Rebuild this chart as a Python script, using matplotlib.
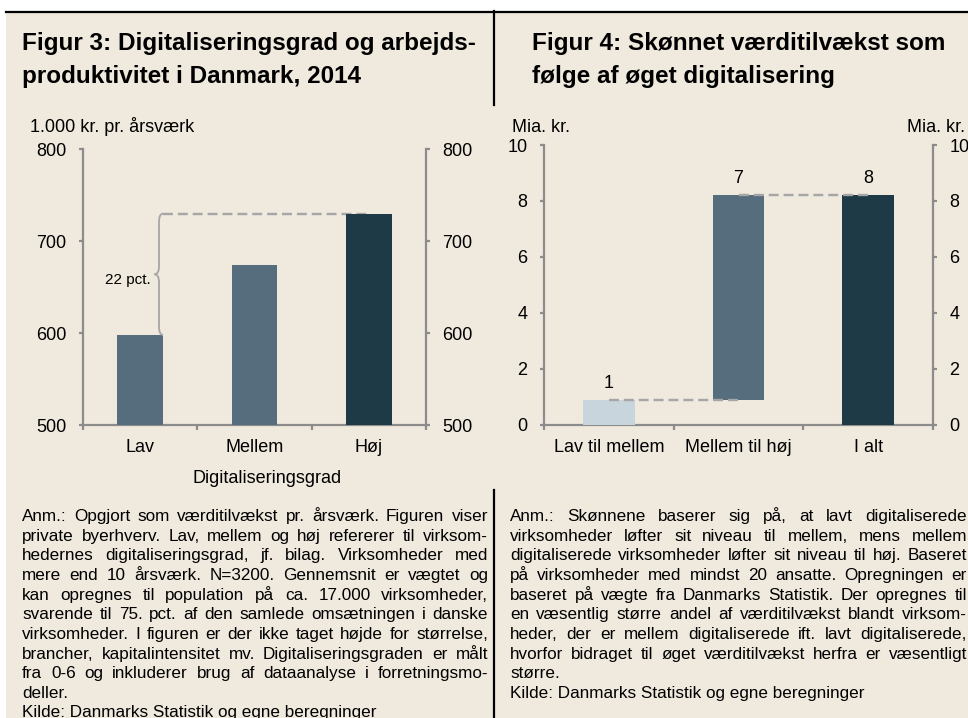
import matplotlib
matplotlib.use('Agg')
import matplotlib.pyplot as plt
from matplotlib.patches import Rectangle, PathPatch
from matplotlib.path import Path
from matplotlib.lines import Line2D
import numpy as np

plt.rcParams['font.family'] = ['Liberation Sans', 'DejaVu Sans']

# ---------------- data ----------------
fig3_title = ["Figur 3: Digitaliseringsgrad og arbejds-", "produktivitet i Danmark, 2014"]
fig3_unit = "1.000 kr. pr. årsværk"
fig3_categories = ['Lav', 'Mellem', 'Høj']
fig3_values = [598, 674, 730]
fig3_yticks = [500, 600, 700, 800]
fig3_xlabel = "Digitaliseringsgrad"

fig4_title = ["Figur 4: Skønnet værditilvækst som", "følge af øget digitalisering"]
fig4_unit = "Mia. kr."
fig4_categories = ['Lav til mellem', 'Mellem til høj', 'I alt']
fig4_steps = [0.88, 7.35]
fig4_yticks = [0, 2, 4, 6, 8, 10]

fig3_notes = [
    "Anm.: Opgjort som værditilvækst pr. årsværk. Figuren viser",
    "private byerhverv. Lav, mellem og høj refererer til virksom-",
    "hedernes digitaliseringsgrad, jf. bilag. Virksomheder med",
    "mere end 10 årsværk. N=3200. Gennemsnit er vægtet og",
    "kan opregnes til population på ca. 17.000 virksomheder,",
    "svarende til 75. pct. af den samlede omsætningen i danske",
    "virksomheder. I figuren er der ikke taget højde for størrelse,",
    "brancher, kapitalintensitet mv. Digitaliseringsgraden er målt",
    "fra 0-6 og inkluderer brug af dataanalyse i forretningsmo-",
    "deller.",
    "Kilde: Danmarks Statistik og egne beregninger",
]
fig4_notes = [
    "Anm.: Skønnene baserer sig på, at lavt digitaliserede",
    "virksomheder løfter sit niveau til mellem, mens mellem",
    "digitaliserede virksomheder løfter sit niveau til høj. Baseret",
    "på virksomheder med mindst 20 ansatte. Opregningen er",
    "baseret på vægte fra Danmarks Statistik. Der opregnes til",
    "en væsentlig større andel af værditilvækst blandt virksom-",
    "heder, der er mellem digitaliserede ift. lavt digitaliserede,",
    "hvorfor bidraget til øget værditilvækst herfra er væsentligt",
    "større.",
    "Kilde: Danmarks Statistik og egne beregninger",
]

# ---------------- style ----------------
W, H = 968, 718
BG = '#EFE9DE'
GRAY = '#8C8C8C'
DASH = '#A6A6A6'
C_LIGHT = '#C8D5DC'
C_MID = '#566D7E'
C_DARK = '#1D3A46'
TICK_FS = 13
NOTE_FS = 12.3

fig = plt.figure(figsize=(W / 100, H / 100), dpi=100, facecolor='white')


def fx(x):
    return x / W


def fy(y):
    return 1 - y / H


# background & frame lines
fig.patches.append(Rectangle((fx(6), 0), 1, fy(11), transform=fig.transFigure,
                             facecolor=BG, edgecolor='none', zorder=-10))
fig.lines.append(Line2D([fx(6), 1], [fy(11.8)] * 2, transform=fig.transFigure,
                        color='black', lw=1.6))
fig.lines.append(Line2D([fx(494.3)] * 2, [fy(11), fy(105)], transform=fig.transFigure,
                        color='black', lw=1.6))
fig.lines.append(Line2D([fx(494.3)] * 2, [fy(490), 0], transform=fig.transFigure,
                        color='black', lw=1.6))

# titles
for i, line in enumerate(fig3_title):
    fig.text(fx(22), fy(50 + i * 33.5), line, fontsize=17.5, fontweight='bold',
             va='baseline', ha='left')
for i, line in enumerate(fig4_title):
    fig.text(fx(532), fy(50 + i * 33.5), line, fontsize=17.5, fontweight='bold',
             va='baseline', ha='left')

fig.text(fx(30), fy(131.5), fig3_unit, fontsize=TICK_FS, va='baseline', ha='left')
fig.text(fx(512), fy(131.5), fig4_unit, fontsize=TICK_FS, va='baseline', ha='left')
fig.text(fx(965), fy(131.5), fig4_unit, fontsize=TICK_FS, va='baseline', ha='right')


def style_axes(ax, ncat):
    ax.set_facecolor('none')
    ax.spines['top'].set_visible(False)
    for s in ['left', 'right', 'bottom']:
        ax.spines[s].set_color(GRAY)
        ax.spines[s].set_linewidth(1.6)
    ax.set_xlim(-0.5, ncat - 0.5)
    ax.tick_params(axis='y', which='both', left=True, right=True, labelleft=True,
                   labelright=True, direction='out', length=2.9, width=1.6,
                   color=GRAY, pad=9, labelsize=TICK_FS)
    ax.set_xticks(np.arange(ncat + 1) - 0.5)
    ax.set_xticklabels([])
    ax.tick_params(axis='x', which='major', direction='out', length=3.6, width=1.6,
                   color=GRAY)


# ---------------- Figure 3 ----------------
ax1 = fig.add_axes([fx(83), fy(425), (426 - 83) / W, (425 - 149.3) / H])
x3 = np.arange(len(fig3_categories))
bw = 0.4
ax1.bar(x3, fig3_values, width=bw, color=[C_MID, C_MID, C_DARK], zorder=3)
ax1.set_ylim(fig3_yticks[0], fig3_yticks[-1])
ax1.set_yticks(fig3_yticks)
style_axes(ax1, len(fig3_categories))
ax1.set_xticks(x3, minor=True)
ax1.set_xticklabels(fig3_categories, minor=True)
ax1.tick_params(axis='x', which='minor', length=0, pad=10, labelsize=TICK_FS)

low, high = fig3_values[0], fig3_values[-1]
mid = (low + high) / 2
xe = x3[0] + bw / 2
xb = xe - 0.035
tip = xe - 0.075
d = 9
verts = [(xe, low), (xb, low), (xb, low + d), (xb, mid - d), (xb, mid), (tip, mid),
         (xb, mid), (xb, mid + d), (xb, high - d), (xb, high), (xe, high)]
codes = [Path.MOVETO, Path.CURVE3, Path.CURVE3, Path.LINETO, Path.CURVE3, Path.CURVE3,
         Path.CURVE3, Path.CURVE3, Path.LINETO, Path.CURVE3, Path.CURVE3]
ax1.add_patch(PathPatch(Path(verts, codes), facecolor='none', edgecolor=DASH,
                        lw=1.3, zorder=4))
ax1.plot([xe, x3[-1]], [high, high], color=DASH, lw=1.7, ls=(0, (4.2, 2.1)), zorder=2)
pct = round((high / low - 1) * 100)
ax1.annotate(f"{pct} pct.", xy=(tip, mid), xytext=(-3, -4), textcoords='offset points',
             ha='right', va='center', fontsize=11)
fig.text(fx(267), fy(483), fig3_xlabel, fontsize=TICK_FS, ha='center', va='baseline')

# ---------------- Figure 4 ----------------
ax2 = fig.add_axes([fx(544), fy(424.7), (933 - 544) / W, (424.7 - 145) / H])
x4 = np.arange(len(fig4_categories))
cum = np.cumsum(fig4_steps)
total = cum[-1]
bottoms = [0] + list(cum[:-1]) + [0]
heights = list(fig4_steps) + [total]
ax2.bar(x4, heights, bottom=bottoms, width=bw, color=[C_LIGHT, C_MID, C_DARK], zorder=3)
ax2.set_ylim(fig4_yticks[0], fig4_yticks[-1])
ax2.set_yticks(fig4_yticks)
style_axes(ax2, len(fig4_categories))
ax2.set_xticks(x4, minor=True)
ax2.set_xticklabels(fig4_categories, minor=True)
ax2.tick_params(axis='x', which='minor', length=0, pad=10, labelsize=TICK_FS)
for i, c in enumerate(cum):
    ax2.plot([x4[i], x4[i + 1]], [c, c], color=DASH, lw=1.7, ls=(0, (4.2, 2.1)), zorder=4)
for i, h in enumerate(heights):
    ax2.annotate(f"{h:.0f}", xy=(x4[i], bottoms[i] + h), xytext=(0, 5.5),
                 textcoords='offset points', ha='center', va='bottom', fontsize=TICK_FS)

# ---------------- notes (justified) ----------------
renderer = fig.canvas.get_renderer()


def draw_notes(lines, n_just, x0, x1, y0, dy):
    for i, line in enumerate(lines):
        yb = y0 + i * dy
        if i >= n_just:
            fig.text(fx(x0), fy(yb), line, fontsize=NOTE_FS, va='baseline', ha='left')
            continue
        words = line.split(' ')
        widths = []
        for w in words:
            t = fig.text(0, 0, w, fontsize=NOTE_FS)
            widths.append(t.get_window_extent(renderer).width)
            t.remove()
        gap = (x1 - x0 - sum(widths)) / (len(words) - 1)
        x = x0
        for w, wd in zip(words, widths):
            fig.text(fx(x), fy(yb), w, fontsize=NOTE_FS, va='baseline', ha='left')
            x += wd + gap


draw_notes(fig3_notes, 9, 22, 488, 521, 19.65)
draw_notes(fig4_notes, 8, 510, 967, 521, 19.65)

fig.savefig('out.png', dpi=100, facecolor='white')
